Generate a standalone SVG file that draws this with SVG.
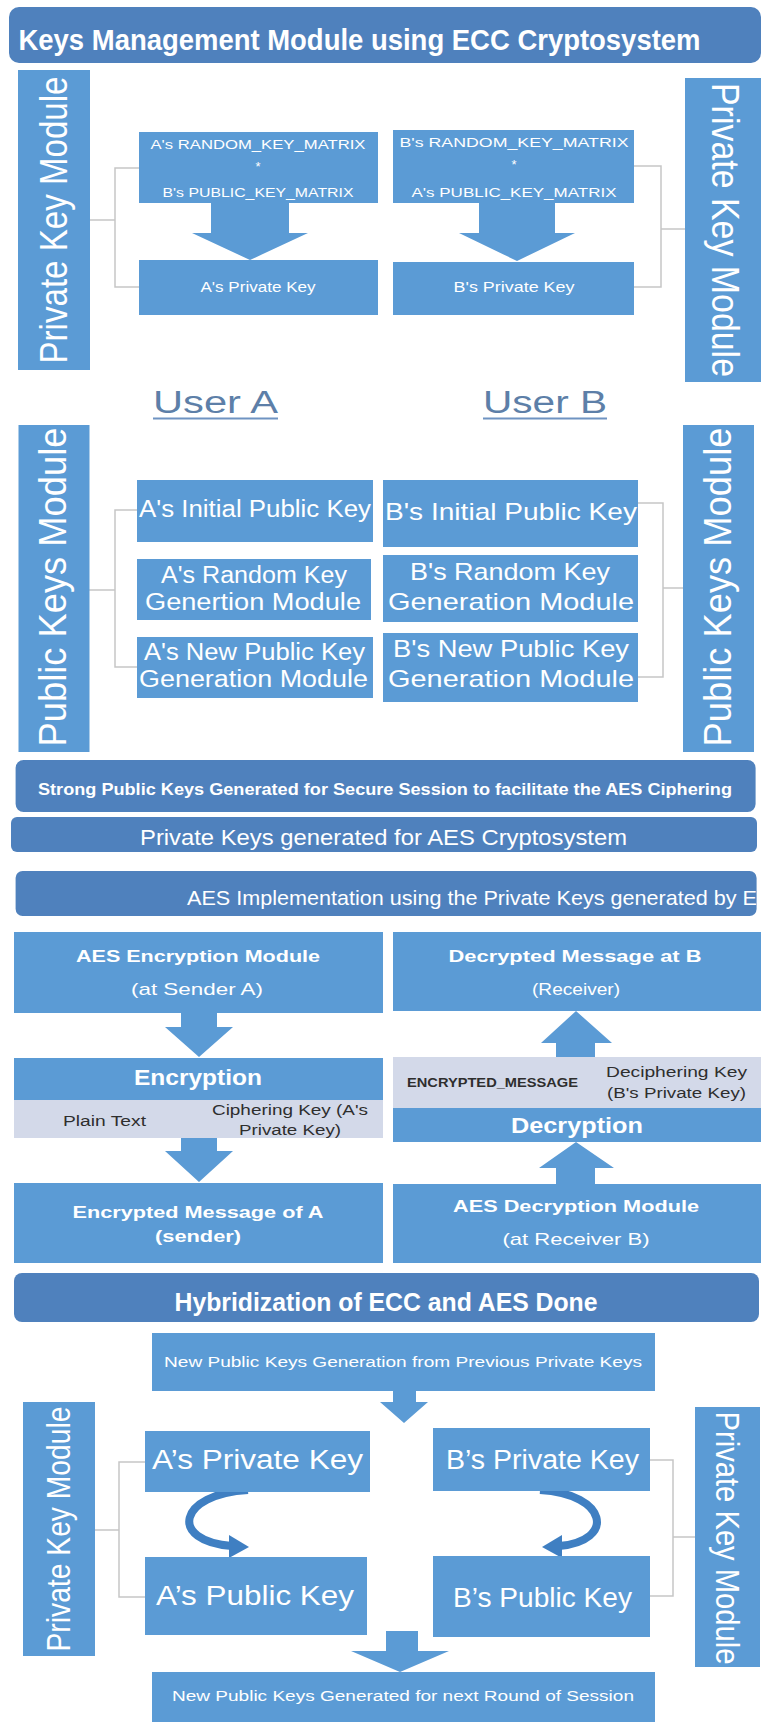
<svg xmlns="http://www.w3.org/2000/svg" width="765" height="1722" viewBox="0 0 765 1722">
<style>
text{font-family:"Liberation Sans",Arial,sans-serif;}
.bar{fill:#4f81bd;}
.box{fill:#5b9bd5;}
.strip{fill:#d3d9e9;}
.w{fill:#ffffff;}
.d{fill:#2e2e2e;}
.b{font-weight:bold;}
.m{text-anchor:middle;}
.line{fill:none;stroke:#c6c6c6;stroke-width:1.5;}
.blk{fill:#5b9bd5;}
.curve{fill:none;stroke:#3f7fc2;stroke-width:8;stroke-linecap:butt;}
.head{fill:#3f7fc2;}
.user{fill:#5d7fa8;font-size:31px;}
</style>
<defs>
<clipPath id="clipImpl"><rect x="15.6" y="871" width="741" height="45" rx="7"/></clipPath>
</defs>
<rect width="765" height="1722" fill="#ffffff"/>

<g id="title">
<rect class="bar" x="9" y="7" width="752" height="56" rx="10"/>
<text class="w b" x="18.5" y="50" font-size="29" textLength="682" lengthAdjust="spacingAndGlyphs">Keys Management Module using ECC Cryptosystem</text>
</g>

<g id="connectors">
<polyline class="line" points="139,168 115,168 115,287 139,287"/>
<line class="line" x1="90" y1="220" x2="115" y2="220"/>
<polyline class="line" points="634,166 661,166 661,287 634,287"/>
<line class="line" x1="661" y1="229" x2="685" y2="229"/>
<polyline class="line" points="137,510 115,510 115,667 137,667"/>
<line class="line" x1="89" y1="590" x2="115" y2="590"/>
<polyline class="line" points="638,503 663,503 663,677 638,677"/>
<line class="line" x1="663" y1="588" x2="683" y2="588"/>
<polyline class="line" points="145,1462 119,1462 119,1597 145,1597"/>
<line class="line" x1="95" y1="1530" x2="119" y2="1530"/>
<polyline class="line" points="650,1460 673,1460 673,1596 650,1596"/>
<line class="line" x1="673" y1="1537" x2="695" y2="1537"/>
<polygon class="blk" points="211,203 289,203 289,233 308,233 250,260 192,233 211,233"/>
<polygon class="blk" points="479,203 555,203 555,233 575,233 517,261 459,233 479,233"/>
<polygon class="blk" points="181,1013 217,1013 217,1027 233,1027 199,1057 165,1027 181,1027"/>
<polygon class="blk" points="181,1138 217,1138 217,1151 233,1151 199,1182 165,1151 181,1151"/>
<polygon class="blk" points="576,1011 612,1043 595,1043 595,1057 556,1057 556,1043 541,1043"/>
<polygon class="blk" points="576,1142 614,1168 595,1168 595,1184 556,1184 556,1168 539,1168"/>
<polygon class="blk" points="393,1391 416,1391 416,1402 428,1402 404,1423 380,1402 393,1402"/>
<polygon class="blk" points="386,1631 418,1631 418,1651 449,1651 400,1672 351,1651 386,1651"/>
<path class="curve" d="M 248 1490 C 178 1494, 168 1541, 232 1546"/>
<polygon class="head" points="229,1535 249,1547 229,1558"/>
<path class="curve" d="M 540 1490 C 608 1494, 616 1541, 559 1546"/>
<polygon class="head" points="562,1535 542,1547 562,1558"/>
</g>

<g id="privA-module-top">
<rect class="box" x="18" y="70" width="72" height="300"/>
<text class="w m" transform="translate(67,220) rotate(-90)" font-size="38" textLength="287" lengthAdjust="spacingAndGlyphs">Private Key Module</text>
</g>
<g id="privB-module-top">
<rect class="box" x="685" y="78" width="76" height="304"/>
<text class="w m" transform="translate(712,230) rotate(90)" font-size="38" textLength="294" lengthAdjust="spacingAndGlyphs">Private Key Module</text>
</g>

<g id="a-matrix">
<rect class="box" x="139" y="132" width="239" height="71"/>
<text class="w m" x="258" y="149" font-size="13" textLength="215" lengthAdjust="spacingAndGlyphs">A's RANDOM_KEY_MATRIX</text>
<text class="w m" x="258" y="171" font-size="13">*</text>
<text class="w m" x="258" y="197" font-size="13" textLength="191" lengthAdjust="spacingAndGlyphs">B's PUBLIC_KEY_MATRIX</text>
</g>
<g id="a-private">
<rect class="box" x="139" y="260" width="239" height="55"/>
<text class="w m" x="258" y="292" font-size="14" textLength="115" lengthAdjust="spacingAndGlyphs">A's Private Key</text>
</g>
<g id="b-matrix">
<rect class="box" x="393" y="130" width="241" height="73"/>
<text class="w m" x="514" y="147" font-size="13" textLength="229" lengthAdjust="spacingAndGlyphs">B's RANDOM_KEY_MATRIX</text>
<text class="w m" x="514" y="169" font-size="13">*</text>
<text class="w m" x="514" y="197" font-size="13" textLength="205" lengthAdjust="spacingAndGlyphs">A's PUBLIC_KEY_MATRIX</text>
</g>
<g id="b-private">
<rect class="box" x="393" y="262" width="241" height="53"/>
<text class="w m" x="514" y="292" font-size="14" textLength="121" lengthAdjust="spacingAndGlyphs">B's Private Key</text>
</g>

<g id="user-a">
<text class="user" x="153" y="413" textLength="125" lengthAdjust="spacingAndGlyphs">User A</text>
<line x1="153" y1="418.5" x2="278" y2="418.5" stroke="#6f93c2" stroke-width="2"/>
</g>
<g id="user-b">
<text class="user" x="483" y="413" textLength="124" lengthAdjust="spacingAndGlyphs">User B</text>
<line x1="483" y1="418.5" x2="607" y2="418.5" stroke="#6f93c2" stroke-width="2"/>
</g>

<g id="pubA-module">
<rect class="box" x="18.5" y="425" width="71" height="327"/>
<text class="w m" transform="translate(66,587) rotate(-90)" font-size="38" textLength="319" lengthAdjust="spacingAndGlyphs">Public Keys Module</text>
</g>
<g id="pubB-module">
<rect class="box" x="683" y="425" width="71" height="327"/>
<text class="w m" transform="translate(731,587) rotate(-90)" font-size="38" textLength="319" lengthAdjust="spacingAndGlyphs">Public Keys Module</text>
</g>

<g id="a-initial">
<rect class="box" x="137" y="480" width="236" height="62"/>
<text class="w m" x="255" y="517" font-size="23" textLength="232" lengthAdjust="spacingAndGlyphs">A's Initial Public Key</text>
</g>
<g id="a-random">
<rect class="box" x="137" y="559" width="234" height="61"/>
<text class="w m" x="254" y="583" font-size="23" textLength="186" lengthAdjust="spacingAndGlyphs">A's Random Key</text>
<text class="w m" x="253" y="610" font-size="23" textLength="216" lengthAdjust="spacingAndGlyphs">Genertion Module</text>
</g>
<g id="a-newpub">
<rect class="box" x="137" y="637" width="236" height="61"/>
<text class="w m" x="254.5" y="660" font-size="23" textLength="221" lengthAdjust="spacingAndGlyphs">A's New Public Key</text>
<text class="w m" x="253.5" y="687" font-size="23" textLength="229" lengthAdjust="spacingAndGlyphs">Generation Module</text>
</g>
<g id="b-initial">
<rect class="box" x="383" y="480" width="255" height="67"/>
<text class="w m" x="511" y="520" font-size="24" textLength="252" lengthAdjust="spacingAndGlyphs">B's Initial Public Key</text>
</g>
<g id="b-random">
<rect class="box" x="383" y="555" width="255" height="67"/>
<text class="w m" x="510" y="580" font-size="24" textLength="200" lengthAdjust="spacingAndGlyphs">B's Random Key</text>
<text class="w m" x="511" y="610" font-size="24" textLength="246" lengthAdjust="spacingAndGlyphs">Generation Module</text>
</g>
<g id="b-newpub">
<rect class="box" x="383" y="633" width="255" height="69"/>
<text class="w m" x="511" y="657" font-size="24" textLength="236" lengthAdjust="spacingAndGlyphs">B's New Public Key</text>
<text class="w m" x="511" y="687" font-size="24" textLength="246" lengthAdjust="spacingAndGlyphs">Generation Module</text>
</g>

<g id="strong-keys">
<rect class="bar" x="15.6" y="760" width="740" height="52" rx="8"/>
<text class="w b m" x="385" y="795" font-size="17" textLength="694" lengthAdjust="spacingAndGlyphs">Strong Public Keys Generated for Secure Session to facilitate the AES Ciphering</text>
</g>
<g id="private-keys-aes">
<rect class="bar" x="11" y="817" width="746" height="35" rx="6"/>
<text class="w m" x="383.5" y="845" font-size="22" textLength="487" lengthAdjust="spacingAndGlyphs">Private Keys generated for AES Cryptosystem</text>
</g>
<g id="aes-impl">
<rect class="bar" x="15.6" y="871" width="741" height="45" rx="7"/>
<text class="w" clip-path="url(#clipImpl)" x="187" y="905" font-size="21" textLength="570" lengthAdjust="spacingAndGlyphs">AES Implementation using the Private Keys generated by E</text>
</g>

<g id="aes-enc-module">
<rect class="box" x="14" y="932" width="369" height="81"/>
<text class="w b m" x="198" y="962" font-size="17" textLength="244" lengthAdjust="spacingAndGlyphs">AES Encryption Module</text>
<text class="w m" x="197" y="995" font-size="17" textLength="132" lengthAdjust="spacingAndGlyphs">(at Sender A)</text>
</g>
<g id="encryption">
<rect class="box" x="14" y="1058" width="369" height="42"/>
<text class="w b m" x="198" y="1085" font-size="22" textLength="128" lengthAdjust="spacingAndGlyphs">Encryption</text>
<rect class="strip" x="14" y="1100" width="369" height="38"/>
<text class="d" x="63" y="1126" font-size="14" textLength="83" lengthAdjust="spacingAndGlyphs">Plain Text</text>
<text class="d m" x="290" y="1115" font-size="14" textLength="156" lengthAdjust="spacingAndGlyphs">Ciphering Key (A's</text>
<text class="d m" x="290" y="1135" font-size="14" textLength="102" lengthAdjust="spacingAndGlyphs">Private Key)</text>
</g>
<g id="encrypted-msg">
<rect class="box" x="14" y="1183" width="369" height="80"/>
<text class="w b m" x="198" y="1218" font-size="17" textLength="251" lengthAdjust="spacingAndGlyphs">Encrypted Message of A</text>
<text class="w b m" x="198" y="1242" font-size="17" textLength="86" lengthAdjust="spacingAndGlyphs">(sender)</text>
</g>

<g id="decrypted-msg">
<rect class="box" x="393" y="932" width="368" height="79"/>
<text class="w b m" x="575" y="962" font-size="17" textLength="253" lengthAdjust="spacingAndGlyphs">Decrypted Message at B</text>
<text class="w m" x="576" y="995" font-size="16" textLength="88" lengthAdjust="spacingAndGlyphs">(Receiver)</text>
</g>
<g id="decryption">
<rect class="strip" x="393" y="1057" width="368" height="51"/>
<text class="d b" x="407" y="1087" font-size="12" textLength="171" lengthAdjust="spacingAndGlyphs">ENCRYPTED_MESSAGE</text>
<text class="d" x="606" y="1077" font-size="14" textLength="141" lengthAdjust="spacingAndGlyphs">Deciphering Key</text>
<text class="d" x="607" y="1098" font-size="14" textLength="139" lengthAdjust="spacingAndGlyphs">(B's Private Key)</text>
<rect class="box" x="393" y="1108" width="368" height="34"/>
<text class="w b m" x="577" y="1133" font-size="22" textLength="132" lengthAdjust="spacingAndGlyphs">Decryption</text>
</g>
<g id="aes-dec-module">
<rect class="box" x="393" y="1184" width="368" height="79"/>
<text class="w b m" x="576" y="1212" font-size="17" textLength="246" lengthAdjust="spacingAndGlyphs">AES Decryption Module</text>
<text class="w m" x="576" y="1245" font-size="17" textLength="147" lengthAdjust="spacingAndGlyphs">(at Receiver B)</text>
</g>

<g id="hybrid">
<rect class="bar" x="14" y="1273" width="745" height="49" rx="8"/>
<text class="w b m" x="386" y="1311" font-size="25" textLength="423" lengthAdjust="spacingAndGlyphs">Hybridization of ECC and AES Done</text>
</g>
<g id="new-gen">
<rect class="box" x="152" y="1333" width="503" height="58"/>
<text class="w m" x="403" y="1367" font-size="14" textLength="478" lengthAdjust="spacingAndGlyphs">New Public Keys Generation from Previous Private Keys</text>
</g>
<g id="privA-module-bottom">
<rect class="box" x="23" y="1402" width="72" height="254"/>
<text class="w m" transform="translate(70,1529) rotate(-90)" font-size="34" textLength="245" lengthAdjust="spacingAndGlyphs">Private Key Module</text>
</g>
<g id="privB-module-bottom">
<rect class="box" x="695" y="1407" width="65" height="260"/>
<text class="w m" transform="translate(716,1538) rotate(90)" font-size="34" textLength="253" lengthAdjust="spacingAndGlyphs">Private Key Module</text>
</g>
<g id="a-priv-bottom">
<rect class="box" x="145" y="1431" width="225" height="61"/>
<text class="w" x="152" y="1469" font-size="27" textLength="211" lengthAdjust="spacingAndGlyphs">A’s Private Key</text>
</g>
<g id="a-pub-bottom">
<rect class="box" x="145" y="1557" width="222" height="78"/>
<text class="w" x="156" y="1605" font-size="27" textLength="198" lengthAdjust="spacingAndGlyphs">A’s Public Key</text>
</g>
<g id="b-priv-bottom">
<rect class="box" x="433" y="1428" width="217" height="63"/>
<text class="w" x="446" y="1469" font-size="27" textLength="193" lengthAdjust="spacingAndGlyphs">B’s Private Key</text>
</g>
<g id="b-pub-bottom">
<rect class="box" x="433" y="1556" width="217" height="81"/>
<text class="w" x="453" y="1607" font-size="27" textLength="179" lengthAdjust="spacingAndGlyphs">B’s Public Key</text>
</g>
<g id="next-round">
<rect class="box" x="152" y="1672" width="503" height="50"/>
<text class="w m" x="403" y="1701" font-size="14" textLength="462" lengthAdjust="spacingAndGlyphs">New Public Keys Generated for next Round of Session</text>
</g>
</svg>
